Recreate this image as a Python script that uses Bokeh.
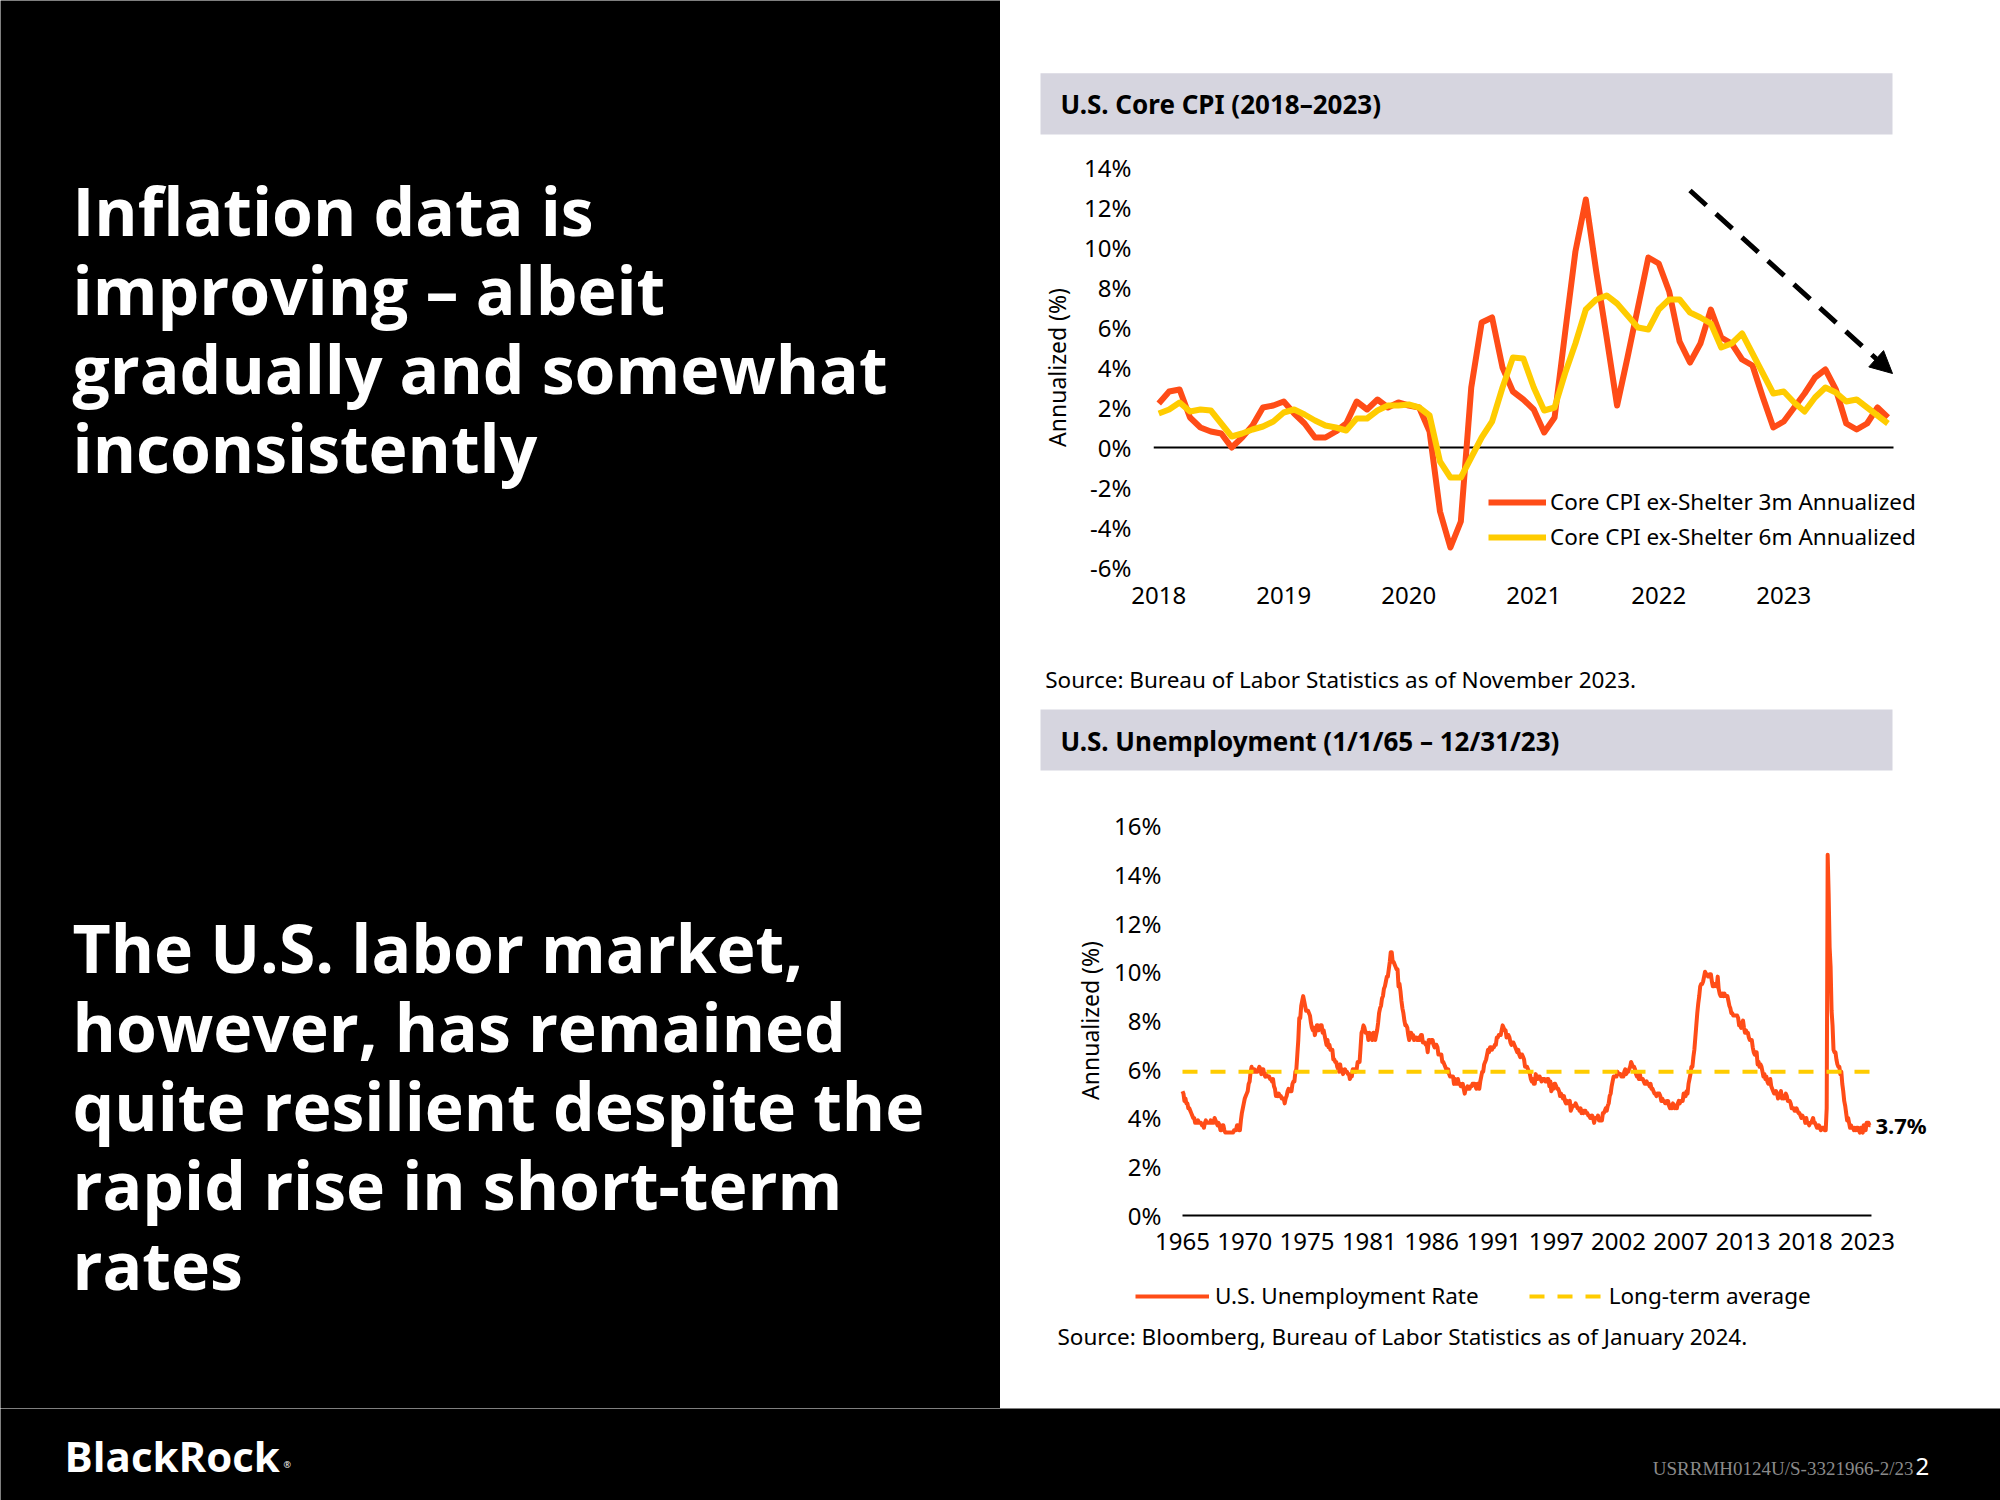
from bokeh.plotting import figure
from bokeh.layouts import column, row
from bokeh.models import Range1d, Legend, LegendItem, Label, Arrow, NormalHead, FixedTicker
from bokeh.core.properties import value
from bokeh.embed import file_html
from bokeh.resources import INLINE

ORANGE = "#FF4C17"
YELLOW = "#FFCC00"
BAND = "#D6D5DF"
CHART_FONT = "Noto Sans"
HEAD_FONT = "Open Sans"

# ---------------- text content ----------------
headline_1 = ["Inflation data is", "improving \u2013 albeit", "gradually and somewhat", "inconsistently"]
headline_2 = ["The U.S. labor market,", "however, has remained", "quite resilient despite the",
              "rapid rise in short-term", "rates"]
title_1 = "U.S. Core CPI (2018\u20132023)"
title_2 = "U.S. Unemployment (1/1/65 \u2013 12/31/23)"
source_1 = "Source: Bureau of Labor Statistics as of November 2023."
source_2 = "Source: Bloomberg, Bureau of Labor Statistics as of January 2024."
footer_code = "USRRMH0124U/S-3321966-2/23"
page_number = "2"

# ---------------- chart 1 data (monthly, Jan 2018 - Nov 2023) ----------------
cpi_start_year = 2018
cpi_3m = [2.2, 2.8, 2.9, 1.5, 1.0, 0.8, 0.7, 0.0, 0.5, 1.1,
          2.0, 2.1, 2.3, 1.7, 1.2, 0.5, 0.5, 0.8, 1.2, 2.3,
          1.9, 2.4, 2.0, 2.25, 2.1, 2.0, 0.8, -3.2, -5.0, -3.7,
          3.0, 6.25, 6.5, 4.0, 2.8, 2.4, 1.9, 0.75, 1.5, 5.7,
          9.8, 12.4, 8.8, 5.5, 2.1, 4.5, 7.0, 9.5, 9.2, 7.8,
          5.3, 4.25, 5.2, 6.9, 5.5, 5.2, 4.4, 4.1, 2.5, 1.0,
          1.3, 2.0, 2.7, 3.5, 3.9, 2.9, 1.2, 0.9, 1.2, 2.0, 1.5]
cpi_6m = [1.7, 1.9, 2.25, 1.8, 1.9, 1.85, 1.2, 0.55, 0.7, 0.9,
          1.05, 1.3, 1.75, 1.9, 1.65, 1.35, 1.1, 1.0, 0.85, 1.45,
          1.45, 1.85, 2.1, 2.1, 2.15, 2.0, 1.6, -0.7, -1.5, -1.5,
          -0.5, 0.5, 1.3, 3.0, 4.5, 4.45, 3.0, 1.85, 2.0, 3.7,
          5.2, 6.9, 7.4, 7.6, 7.2, 6.6, 6.0, 5.9, 6.9, 7.4,
          7.4, 6.75, 6.5, 6.2, 5.0, 5.2, 5.7, 4.7, 3.7, 2.7,
          2.8, 2.25, 1.8, 2.5, 3.0, 2.75, 2.3, 2.4, 2.0, 1.6, 1.2]
cpi_labels = ["Core CPI ex-Shelter 3m Annualized", "Core CPI ex-Shelter 6m Annualized"]
cpi_x_ticks = [2018, 2019, 2020, 2021, 2022, 2023]
cpi_y_ticks = [-6, -4, -2, 0, 2, 4, 6, 8, 10, 12, 14]
cpi_axis_span = [2017.958, 2023.878]          # extent of the horizontal zero axis
cpi_trend_arrow = {"x_start": 2022.25, "y_start": 12.85, "x_end": 2023.87, "y_end": 3.7}

# ---------------- chart 2 data (monthly, Jan 1965 - Dec 2023) ----------------
unemp_rate = [
    5.1, 5.0, 4.7, 4.8, 4.6, 4.6, 4.4, 4.4, 4.3, 4.2, 4.1, 4.0,   # 1965
    4.0, 3.8, 3.8, 3.8, 3.9, 3.8, 3.8, 3.8, 3.7, 3.7, 3.6, 3.8,   # 1966
    3.9, 3.8, 3.8, 3.8, 3.8, 3.9, 3.8, 3.8, 3.8, 4.0, 3.9, 3.8,   # 1967
    3.7, 3.8, 3.7, 3.5, 3.5, 3.7, 3.7, 3.5, 3.4, 3.4, 3.4, 3.4,   # 1968
    3.4, 3.4, 3.4, 3.4, 3.4, 3.5, 3.5, 3.5, 3.7, 3.7, 3.5, 3.5,   # 1969
    3.9, 4.2, 4.4, 4.6, 4.8, 4.9, 5.0, 5.1, 5.4, 5.5, 5.9, 6.1,   # 1970
    5.9, 5.9, 6.0, 5.9, 5.9, 5.9, 6.0, 6.1, 6.0, 5.8, 6.0, 6.0,   # 1971
    5.8, 5.7, 5.8, 5.7, 5.7, 5.7, 5.6, 5.6, 5.5, 5.6, 5.3, 5.2,   # 1972
    4.9, 5.0, 4.9, 5.0, 4.9, 4.9, 4.8, 4.8, 4.8, 4.6, 4.8, 4.9,   # 1973
    5.1, 5.2, 5.1, 5.1, 5.1, 5.4, 5.5, 5.5, 5.9, 6.0, 6.6, 7.2,   # 1974
    8.1, 8.1, 8.6, 8.8, 9.0, 8.8, 8.6, 8.4, 8.4, 8.4, 8.3, 8.2,   # 1975
    7.9, 7.7, 7.6, 7.7, 7.4, 7.6, 7.8, 7.8, 7.6, 7.7, 7.8, 7.8,   # 1976
    7.5, 7.6, 7.4, 7.2, 7.0, 7.2, 6.9, 7.0, 6.8, 6.8, 6.8, 6.4,   # 1977
    6.4, 6.3, 6.3, 6.1, 6.0, 5.9, 6.2, 5.9, 6.0, 5.8, 5.9, 6.0,   # 1978
    5.9, 5.9, 5.8, 5.8, 5.6, 5.7, 5.7, 6.0, 5.9, 6.0, 5.9, 6.0,   # 1979
    6.3, 6.3, 6.3, 6.9, 7.5, 7.6, 7.8, 7.7, 7.5, 7.5, 7.5, 7.2,   # 1980
    7.5, 7.4, 7.4, 7.2, 7.5, 7.5, 7.2, 7.4, 7.6, 7.9, 8.3, 8.5,   # 1981
    8.6, 8.9, 9.0, 9.3, 9.4, 9.6, 9.8, 9.8, 10.1, 10.4, 10.8, 10.8,  # 1982
    10.4, 10.4, 10.3, 10.2, 10.1, 10.1, 9.4, 9.5, 9.2, 8.8, 8.5, 8.3,  # 1983
    8.0, 7.8, 7.8, 7.7, 7.4, 7.2, 7.5, 7.5, 7.3, 7.4, 7.2, 7.3,   # 1984
    7.3, 7.2, 7.2, 7.3, 7.2, 7.4, 7.4, 7.1, 7.1, 7.1, 7.0, 7.0,   # 1985
    6.7, 7.2, 7.2, 7.1, 7.2, 7.2, 7.0, 6.9, 7.0, 7.0, 6.9, 6.6,   # 1986
    6.6, 6.6, 6.6, 6.3, 6.3, 6.2, 6.1, 6.0, 5.9, 6.0, 5.8, 5.7,   # 1987
    5.7, 5.7, 5.7, 5.4, 5.6, 5.4, 5.4, 5.6, 5.4, 5.4, 5.3, 5.3,   # 1988
    5.4, 5.2, 5.0, 5.2, 5.2, 5.3, 5.2, 5.2, 5.3, 5.3, 5.4, 5.4,   # 1989
    5.4, 5.3, 5.2, 5.4, 5.4, 5.2, 5.5, 5.7, 5.9, 5.9, 6.2, 6.3,   # 1990
    6.4, 6.6, 6.8, 6.7, 6.9, 6.9, 6.8, 6.9, 6.9, 7.0, 7.0, 7.3,   # 1991
    7.3, 7.4, 7.4, 7.4, 7.6, 7.8, 7.7, 7.6, 7.6, 7.3, 7.4, 7.4,   # 1992
    7.3, 7.1, 7.0, 7.1, 7.1, 7.0, 6.9, 6.8, 6.7, 6.8, 6.6, 6.5,   # 1993
    6.6, 6.6, 6.5, 6.4, 6.1, 6.1, 6.1, 6.0, 5.9, 5.8, 5.6, 5.5,   # 1994
    5.6, 5.4, 5.4, 5.8, 5.6, 5.6, 5.7, 5.7, 5.6, 5.5, 5.6, 5.6,   # 1995
    5.6, 5.5, 5.5, 5.6, 5.6, 5.3, 5.5, 5.1, 5.2, 5.2, 5.4, 5.4,   # 1996
    5.3, 5.2, 5.2, 5.1, 4.9, 5.0, 4.9, 4.8, 4.9, 4.7, 4.6, 4.7,   # 1997
    4.6, 4.6, 4.7, 4.3, 4.4, 4.5, 4.5, 4.5, 4.6, 4.5, 4.4, 4.4,   # 1998
    4.3, 4.4, 4.2, 4.3, 4.2, 4.3, 4.3, 4.2, 4.2, 4.1, 4.1, 4.0,   # 1999
    4.0, 4.1, 4.0, 3.8, 4.0, 4.0, 4.0, 4.1, 3.9, 3.9, 3.9, 3.9,   # 2000
    4.2, 4.2, 4.3, 4.4, 4.3, 4.5, 4.6, 4.9, 5.0, 5.3, 5.5, 5.7,   # 2001
    5.7, 5.7, 5.7, 5.9, 5.8, 5.8, 5.8, 5.7, 5.7, 5.7, 5.9, 6.0,   # 2002
    5.8, 5.9, 5.9, 6.0, 6.1, 6.3, 6.2, 6.1, 6.1, 6.0, 5.8, 5.7,   # 2003
    5.7, 5.6, 5.8, 5.6, 5.6, 5.6, 5.5, 5.4, 5.4, 5.5, 5.4, 5.4,   # 2004
    5.3, 5.4, 5.2, 5.2, 5.1, 5.0, 5.0, 4.9, 5.0, 5.0, 5.0, 4.9,   # 2005
    4.7, 4.8, 4.7, 4.7, 4.6, 4.6, 4.7, 4.7, 4.5, 4.4, 4.5, 4.4,   # 2006
    4.6, 4.5, 4.4, 4.5, 4.4, 4.6, 4.7, 4.6, 4.7, 4.7, 4.7, 5.0,   # 2007
    5.0, 4.9, 5.1, 5.0, 5.4, 5.6, 5.8, 6.1, 6.1, 6.5, 6.8, 7.3,   # 2008
    7.8, 8.3, 8.7, 9.0, 9.4, 9.5, 9.5, 9.6, 9.8, 10.0, 9.9, 9.9,  # 2009
    9.8, 9.8, 9.9, 9.9, 9.6, 9.4, 9.4, 9.5, 9.5, 9.4, 9.8, 9.3,   # 2010
    9.1, 9.0, 9.0, 9.1, 9.0, 9.1, 9.0, 9.0, 9.0, 8.8, 8.6, 8.5,   # 2011
    8.3, 8.3, 8.2, 8.2, 8.2, 8.2, 8.2, 8.1, 7.8, 7.8, 7.7, 7.9,   # 2012
    8.0, 7.7, 7.5, 7.6, 7.5, 7.5, 7.3, 7.2, 7.2, 7.2, 6.9, 6.7,   # 2013
    6.6, 6.7, 6.7, 6.2, 6.3, 6.1, 6.2, 6.1, 5.9, 5.7, 5.8, 5.6,   # 2014
    5.7, 5.5, 5.4, 5.4, 5.6, 5.3, 5.2, 5.1, 5.0, 5.0, 5.1, 5.0,   # 2015
    4.8, 4.9, 5.0, 5.1, 4.8, 4.9, 4.8, 4.9, 5.0, 4.9, 4.7, 4.7,   # 2016
    4.7, 4.6, 4.4, 4.4, 4.4, 4.3, 4.3, 4.4, 4.3, 4.2, 4.2, 4.1,   # 2017
    4.0, 4.1, 4.0, 4.0, 3.8, 4.0, 3.8, 3.8, 3.7, 3.8, 3.8, 3.9,   # 2018
    4.0, 3.8, 3.8, 3.7, 3.6, 3.6, 3.7, 3.6, 3.5, 3.6, 3.6, 3.6,   # 2019
    3.5, 3.5, 4.4, 14.8, 13.2, 11.0, 10.2, 8.4, 7.8, 6.8, 6.7, 6.7,  # 2020
    6.4, 6.2, 6.1, 6.1, 5.8, 5.9, 5.4, 5.1, 4.7, 4.5, 4.2, 3.9,   # 2021
    4.0, 3.8, 3.6, 3.7, 3.6, 3.6, 3.5, 3.6, 3.5, 3.6, 3.6, 3.5,   # 2022
    3.4, 3.6, 3.5, 3.4, 3.7, 3.6, 3.5, 3.8, 3.8, 3.8, 3.7, 3.7,   # 2023
]
unemp_long_term_avg = 5.9
unemp_tick_labels = ["1965", "1970", "1975", "1981", "1986", "1991",
                     "1997", "2002", "2007", "2013", "2018", "2023"]
unemp_tick_step_months = 64
unemp_y_ticks = [0, 2, 4, 6, 8, 10, 12, 14, 16]
unemp_labels = ["U.S. Unemployment Rate", "Long-term average"]


# ---------------- helpers ----------------
def deco(w, h, bg):
    f = figure(width=w, height=h, x_range=Range1d(0, w), y_range=Range1d(h, 0),
               output_backend="svg", toolbar_location=None,
               x_axis_location=None, y_axis_location=None, min_border=0,
               background_fill_color=bg, border_fill_color=bg, outline_line_color=None)
    f.grid.visible = False
    return f


def add_text(f, x, y, txt, size, color="black", bold=False, font=CHART_FONT,
             align="left", baseline="middle"):
    f.text(x=x, y=y, text=txt, text_font=value(font), text_font_size=size,
           text_font_style="bold" if bold else "normal", text_color=color,
           text_baseline=baseline, text_align=align)


def style_chart(p):
    p.background_fill_color = "white"
    p.border_fill_color = "white"
    p.outline_line_color = None
    p.grid.visible = False
    for ax in p.axis:
        ax.major_tick_line_color = None
        ax.minor_tick_line_color = None
        ax.major_tick_out = 0
        ax.major_tick_in = 0
        ax.axis_line_color = None
        ax.major_label_text_font = CHART_FONT
        ax.major_label_text_font_size = "24px"
        ax.major_label_text_color = "black"
        ax.axis_label_text_font = CHART_FONT
        ax.axis_label_text_font_size = "23px"
        ax.axis_label_text_font_style = "normal"
        ax.axis_label_text_color = "black"


# ---------------- left black panel ----------------
left = deco(1000, 1408, "black")
line_gap = 79.3
add_text(left, [72] * len(headline_1), [209 + i * line_gap for i in range(len(headline_1))],
         headline_1, "66px", "white", True, HEAD_FONT)
add_text(left, [72] * len(headline_2), [946 + i * line_gap for i in range(len(headline_2))],
         headline_2, "66px", "white", True, HEAD_FONT)

# ---------------- header for chart 1 ----------------
head1 = deco(1000, 140, "white")
head1.quad(left=[40], right=[892], top=[72.7], bottom=[134], fill_color=BAND, line_color=None)
add_text(head1, [60], [103], [title_1], "26px", "black", True)

# ---------------- chart 1 ----------------
cpi_x = [cpi_start_year + i / 12 for i in range(len(cpi_3m))]
p1 = figure(width=1000, height=500, x_range=Range1d(2017.958, 2024.214), y_range=Range1d(-6, 14),
            output_backend="svg", toolbar_location=None,
            min_border_left=153, min_border_right=65, min_border_top=27, min_border_bottom=73)
style_chart(p1)
p1.line(cpi_axis_span, [0, 0], line_color="black", line_width=2)
r3 = p1.line(cpi_x, cpi_3m, line_color=ORANGE, line_width=6, line_join="round")
r6 = p1.line(cpi_x, cpi_6m, line_color=YELLOW, line_width=6, line_join="round")
p1.xaxis.ticker = FixedTicker(ticks=cpi_x_ticks)
p1.xaxis.major_label_overrides = {v: str(v) for v in cpi_x_ticks}
p1.xaxis.major_label_standoff = 19
p1.yaxis.ticker = FixedTicker(ticks=cpi_y_ticks)
p1.yaxis.major_label_overrides = {v: f"{v}%" for v in cpi_y_ticks}
p1.yaxis.major_label_standoff = 22
p1.yaxis.axis_label = "Annualized (%)"
p1.yaxis.axis_label_standoff = 8
p1.add_layout(Arrow(end=NormalHead(size=22, fill_color="black", line_color="black", line_width=1),
                    line_color="black", line_width=5, line_dash="22 13", **cpi_trend_arrow))
leg1 = Legend(items=[LegendItem(label=cpi_labels[0], renderers=[r3]),
                     LegendItem(label=cpi_labels[1], renderers=[r6])],
              location=(335, 15), orientation="vertical", background_fill_alpha=0,
              border_line_color=None, padding=0, margin=0, spacing=4,
              glyph_width=58, glyph_height=26, label_height=26, label_standoff=4,
              label_text_font=CHART_FONT, label_text_font_size="22.5px", label_text_color="black")
p1.add_layout(leg1)

# ---------------- source 1 + header 2 ----------------
mid = deco(1000, 150, "white")
add_text(mid, [44.7], [38.6], [source_1], "22.5px")
mid.quad(left=[40], right=[892], top=[69], bottom=[130], fill_color=BAND, line_color=None)
add_text(mid, [60], [100], [title_2], "26px", "black", True)

# ---------------- chart 2 ----------------
# axes are pinned at month 0 / 0 % so that the legend and end label sit inside the plot frame
unemp_x = list(range(len(unemp_rate)))
p2 = figure(width=1000, height=530, x_range=Range1d(-187.03, 840.6), y_range=Range1d(-4.308, 17.436),
            output_backend="svg", toolbar_location=None, min_border=0)
style_chart(p2)
p2.xaxis.fixed_location = 0
p2.yaxis.fixed_location = 0
p2.line([unemp_x[0], len(unemp_rate)], [0, 0], line_color="black", line_width=2)
ru = p2.line(unemp_x, unemp_rate, line_color=ORANGE, line_width=4, line_join="round")
ra = p2.line([unemp_x[0], unemp_x[-1]], [unemp_long_term_avg] * 2, line_color=YELLOW,
             line_width=4, line_dash="15 13")
tick_pos = [i * unemp_tick_step_months for i in range(len(unemp_tick_labels))]
p2.xaxis.ticker = FixedTicker(ticks=tick_pos)
p2.xaxis.major_label_overrides = dict(zip(tick_pos, unemp_tick_labels))
p2.xaxis.major_label_standoff = 18
p2.yaxis.ticker = FixedTicker(ticks=unemp_y_ticks)
p2.yaxis.major_label_overrides = {v: f"{v}%" for v in unemp_y_ticks}
p2.yaxis.major_label_standoff = 21
p2.add_layout(Label(x=unemp_x[0], y=(unemp_y_ticks[0] + unemp_y_ticks[-1]) / 2, x_offset=-93,
                    text="Annualized (%)", angle=90, angle_units="deg",
                    text_align="center", text_baseline="middle", text_font=CHART_FONT,
                    text_font_size="23px", text_color="black"))
p2.add_layout(Label(x=unemp_x[-1], y=unemp_rate[-1], text=f"{unemp_rate[-1]}%", x_offset=5,
                    text_baseline="middle", text_font=CHART_FONT, text_font_size="22px",
                    text_font_style="bold", text_color="black"))
leg2 = Legend(items=[LegendItem(label=unemp_labels[0], renderers=[ru]),
                     LegendItem(label=unemp_labels[1], renderers=[ra])],
              location=(135, 9), orientation="horizontal", background_fill_alpha=0,
              border_line_color=None, padding=0, margin=0, spacing=50,
              glyph_width=74, glyph_height=26, label_height=26, label_standoff=6,
              label_text_font=CHART_FONT, label_text_font_size="22.5px", label_text_color="black")
p2.add_layout(leg2)

# ---------------- source 2 ----------------
bot = deco(1000, 88, "white")
add_text(bot, [57], [15.5], [source_2], "22.5px")

# ---------------- footer ----------------
foot = deco(2000, 92, "black")
add_text(foot, [64], [46.5], ["BlackRock"], "42px", "white", True, HEAD_FONT)
add_text(foot, [283], [56], ["\u00ae"], "9px", "white", False, HEAD_FONT)
add_text(foot, [1913], [60], [footer_code], "19px", "#8a8a8a", False, "Liberation Serif", "right")
add_text(foot, [1915], [58], [page_number], "24px", "white", False, CHART_FONT)

right = column(column(head1), column(p1), column(mid), column(p2), column(bot), spacing=0)
page = column(row(left, right, spacing=0), foot, spacing=0)

open("out.html", "w").write(file_html(page, INLINE))
